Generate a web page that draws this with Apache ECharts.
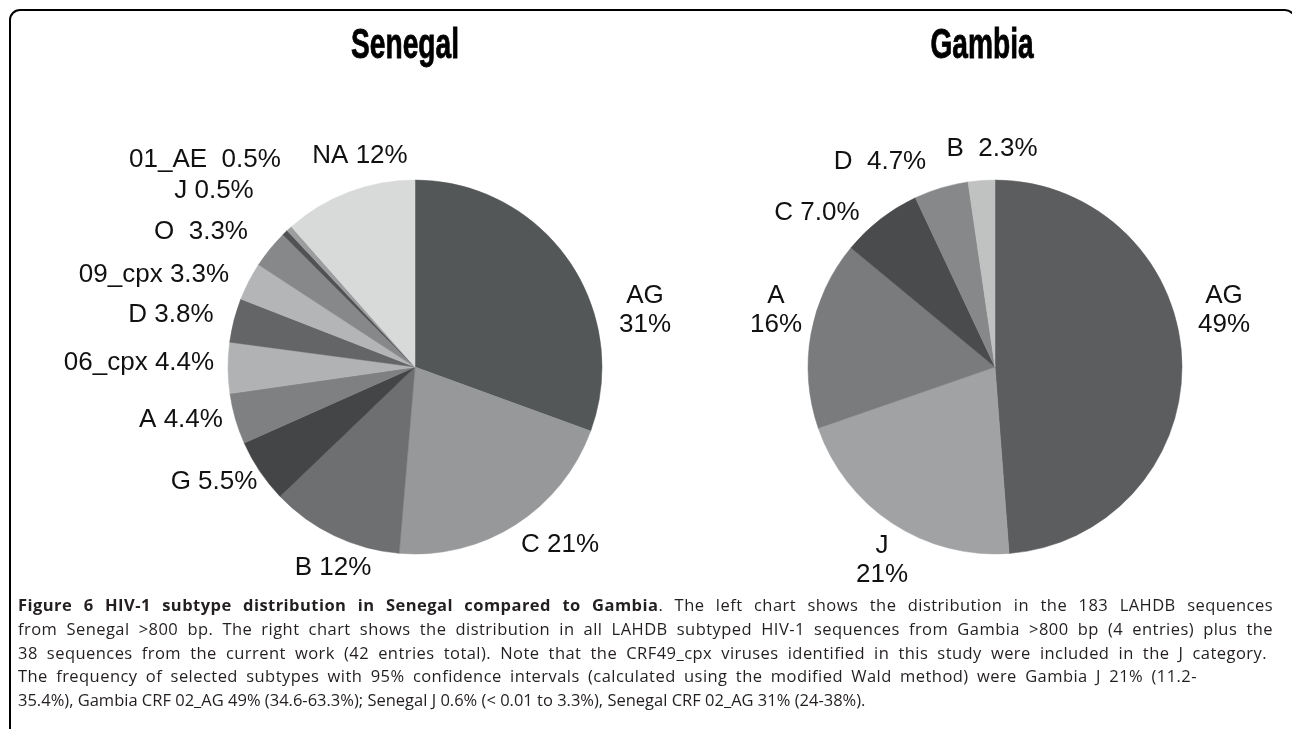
<!DOCTYPE html>
<html>
<head>
<meta charset="utf-8">
<script src="https://cdn.jsdelivr.net/npm/echarts@6/dist/echarts.min.js"></script>
<style>
  html, body { margin:0; padding:0; background:#fff; }
  #wrap { position:relative; width:1292px; height:729px; overflow:hidden; background:#fff; }
  #frame { position:absolute; left:9px; top:9px; width:1287px; height:740px; border:2px solid #000; border-radius:11px; box-sizing:border-box; }
  #chart { position:absolute; left:0; top:0; width:1292px; height:729px; }
  #cap { position:absolute; left:18px; top:593px; width:1256px; font-family:'Open Sans', sans-serif; font-size:16.5px; line-height:23.8px; color:#231f20; white-space:nowrap; }
  #cap .ln { display:block; }
  #cap .j { text-align:justify; text-align-last:justify; white-space:normal; letter-spacing:0.45px; }
  #cap b { font-weight:700; }
</style>
</head>
<body>
<div id="wrap">
  <div id="frame"></div>
  <div id="chart"></div>
  <div id="cap">
    <div class="ln j" style="width:1255px"><b>Figure 6 HIV-1 subtype distribution in Senegal compared to Gambia</b>. The left chart shows the distribution in the 183 LAHDB sequences</div>
    <div class="ln j" style="width:1255px">from Senegal &gt;800 bp. The right chart shows the distribution in all LAHDB subtyped HIV-1 sequences from Gambia &gt;800 bp (4 entries) plus the</div>
    <div class="ln j" style="width:1249px">38 sequences from the current work (42 entries total). Note that the CRF49_cpx viruses identified in this study were included in the J category.</div>
    <div class="ln j" style="width:1179px">The frequency of selected subtypes with 95% confidence intervals (calculated using the modified Wald method) were Gambia J 21% (11.2-</div>
    <div class="ln">35.4%), Gambia CRF 02_AG 49% (34.6-63.3%); Senegal J 0.6% (&lt; 0.01 to 3.3%), Senegal CRF 02_AG 31% (24-38%).</div>
  </div>
</div>
<script>
// ---- data ----
const chartTitles = ['Senegal', 'Gambia'];

const senegalNames  = ['AG', 'C', 'B', 'G', 'A', '06_cpx', 'D', '09_cpx', 'O', 'J', '01_AE', 'NA'];
const senegalValues = [30.6, 20.8, 11.5, 5.5, 4.4, 4.4, 3.8, 3.3, 3.3, 0.5, 0.5, 11.5];
const senegalLabels = ['AG\n31%', 'C 21%', 'B 12%', 'G 5.5%', 'A 4.4%', '06_cpx 4.4%', 'D 3.8%', '09_cpx 3.3%', 'O  3.3%', 'J 0.5%', '01_AE  0.5%', 'NA 12%'];

const gambiaNames  = ['AG', 'J', 'A', 'C', 'D', 'B'];
const gambiaValues = [48.8, 20.9, 16.3, 7.0, 4.7, 2.3];
const gambiaLabels = ['AG\n49%', 'J\n21%', 'A\n16%', 'C 7.0%', 'D  4.7%', 'B  2.3%'];

// ---- styles / layout ----
const senegalColors = ['#545758', '#97989a', '#6e6f71', '#444547', '#7e8081', '#b1b2b4', '#636566', '#b4b5b7', '#87888a', '#505253', '#9c9d9f', '#d8d9d9'];
const gambiaColors  = ['#5c5d5f', '#a0a2a4', '#7a7b7d', '#4a4b4d', '#87888a', '#c0c1c1'];

const pieCenters = [[415, 367], [995, 367]];
const pieRadius = 187;

// label anchor points (centre of each label block)
const labelPos = [
  [[645, 310], [560, 545], [333, 568], [214, 482], [181, 420], [139, 363], [171, 315], [154, 275], [201, 232], [214, 191], [205, 160], [360, 156]],
  [[1224, 310], [882, 560], [776, 310], [817, 213], [880, 162], [992, 149]]
];
const titlePos = [[405, 46], [982, 46]];

const labelFont = { fontFamily: '"Liberation Sans", Arial, sans-serif', fontSize: 26, lineHeight: 29, color: '#111' };

function buildData(names, values, labels, colors) {
  return names.map((n, i) => ({
    name: n, value: values[i],
    itemStyle: { color: colors[i], borderColor: colors[i], borderWidth: 0.5 },
    label: { formatter: labels[i] }
  }));
}

function pieSeries(idx, data) {
  return {
    type: 'pie',
    silent: true,
    center: pieCenters[idx],
    radius: [0, pieRadius],
    startAngle: 90,
    clockwise: true,
    avoidLabelOverlap: false,
    data: data,
    label: Object.assign({ show: true, position: 'outside', align: 'center' }, labelFont),
    labelLine: { show: false },
    labelLayout: function (p) {
      const pos = labelPos[idx][p.dataIndex];
      return { x: pos[0], y: pos[1], align: 'center', verticalAlign: 'middle' };
    },
    emphasis: { disabled: true }
  };
}

const chart = echarts.init(document.getElementById('chart'), null, { renderer: 'canvas' });
chart.setOption({
  animation: false,
  backgroundColor: 'transparent',
  graphic: chartTitles.map((t, i) => ({
    type: 'text',
    x: titlePos[i][0], y: titlePos[i][1],
    scaleX: 0.67,
    style: { text: t, x: 0, y: 0, textAlign: 'center', textVerticalAlign: 'middle',
             font: 'bold 42px "Liberation Sans", Arial, sans-serif', fill: '#000',
             stroke: '#000', lineWidth: 0.8 }
  })),
  series: [
    pieSeries(0, buildData(senegalNames, senegalValues, senegalLabels, senegalColors)),
    pieSeries(1, buildData(gambiaNames, gambiaValues, gambiaLabels, gambiaColors))
  ]
});
</script>
</body>
</html>
